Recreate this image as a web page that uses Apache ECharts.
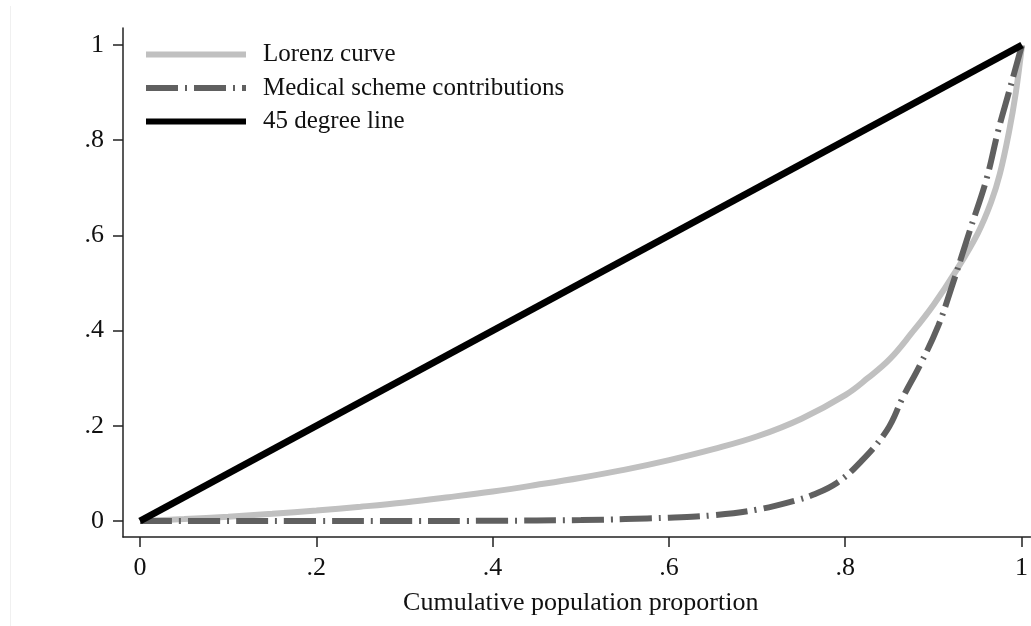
<!DOCTYPE html>
<html>
<head>
<meta charset="utf-8">
<script src="https://cdn.jsdelivr.net/npm/echarts@6/dist/echarts.min.js"></script>
<style>html,body{margin:0;padding:0;background:#fff}#c{width:1031px;height:626px}</style>
</head>
<body>
<div id="c"></div>
<script>
// ---- data ----
var tickValues = [0, 0.2, 0.4, 0.6, 0.8, 1];
var xTickLabels = ['0', '.2', '.4', '.6', '.8', '1'];
var yTickLabels = ['0', '.2', '.4', '.6', '.8', '1'];
var seriesNames = ['Lorenz curve', 'Medical scheme contributions', '45 degree line'];

var lorenzX = [0, 0.05, 0.1, 0.15, 0.2, 0.25, 0.3, 0.35, 0.4, 0.45, 0.5, 0.55, 0.6, 0.65, 0.7, 0.75, 0.8, 0.825, 0.85, 0.875, 0.9, 0.925, 0.95, 0.965, 0.975, 0.985, 0.993, 1];
var lorenzY = [0, 0.004, 0.009, 0.015, 0.022, 0.030, 0.039, 0.050, 0.062, 0.076, 0.091, 0.108, 0.128, 0.151, 0.178, 0.215, 0.265, 0.300, 0.340, 0.395, 0.455, 0.525, 0.605, 0.670, 0.730, 0.815, 0.900, 1];

var medX = [0, 0.1, 0.2, 0.3, 0.4, 0.5, 0.55, 0.6, 0.65, 0.7, 0.745, 0.763, 0.79, 0.816, 0.847, 0.865, 0.885, 0.905, 0.92, 0.941, 0.96, 0.973, 0.985, 0.994, 1];
var medY = [0, 0, 0, 0, 0.0005, 0.002, 0.004, 0.007, 0.012, 0.024, 0.044, 0.055, 0.08, 0.122, 0.191, 0.26, 0.33, 0.41, 0.49, 0.611, 0.72, 0.82, 0.90, 0.96, 1];

var eqX = [0, 1];
var eqY = [0, 1];

function pairs(xs, ys) { return xs.map(function (x, i) { return [x, ys[i]]; }); }

// layout (pixels)
var PL = 140, PR = 1022, PT = 45, PB = 521;   // data extent 0..1
var AXL = 123, AXR = 1031, AXT = 28, AXB = 537; // axis frame lines
var W = 1031, H = 626;
var sx = (PR - PL), sy = (PB - PT);

var FONT = '"Liberation Serif", "DejaVu Serif", serif';
var tickStyle = { show: true, length: 10, inside: false, lineStyle: { color: '#222', width: 1.5 }, customValues: tickValues };

var chart = echarts.init(document.getElementById('c'), null, { renderer: 'canvas' });
chart.setOption({
  backgroundColor: '#ffffff',
  animation: false,
  textStyle: { fontFamily: FONT },
  graphic: [{
    type: 'line', shape: { x1: 10.5, y1: 6, x2: 10.5, y2: 626 },
    style: { stroke: '#f0f0f0', lineWidth: 1 }, silent: true
  }],
  grid: [
    { left: PL, right: W - PR, top: PT, bottom: H - PB },
    { left: AXL, right: W - AXR, top: AXT, bottom: H - AXB }
  ],
  legend: {
    orient: 'vertical', left: 143, top: 42, padding: 0,
    itemWidth: 100, itemHeight: 14, itemGap: 8.5,
    itemStyle: { opacity: 0 },
    lineStyle: { width: 6 },
    textStyle: { fontFamily: FONT, fontSize: 25, color: '#111', padding: [0, 0, 0, 12] },
    data: seriesNames
  },
  xAxis: [{
    type: 'value', gridIndex: 0, min: 0, max: 1, interval: 0.2,
    axisLine: { show: false }, axisTick: { show: false }, axisLabel: { show: false },
    splitLine: { show: false }
  }, {
    type: 'value', gridIndex: 1,
    min: -(PL - AXL) / sx, max: 1 + (AXR - PR) / sx,
    axisLine: { show: true, onZero: false, lineStyle: { color: '#222', width: 1.5 } },
    axisTick: tickStyle,
    axisLabel: {
      show: true, customValues: tickValues, margin: 18, fontFamily: FONT, fontSize: 26, color: '#111',
      formatter: function (v) { return xTickLabels[Math.round(v / 0.2)]; }
    },
    splitLine: { show: false },
    name: 'Cumulative population proportion', nameLocation: 'middle', nameGap: 53,
    nameTextStyle: { fontFamily: FONT, fontSize: 26, color: '#111', padding: [0, 0, 0, 8] }
  }],
  yAxis: [{
    type: 'value', gridIndex: 0, min: 0, max: 1, interval: 0.2,
    axisLine: { show: false }, axisTick: { show: false }, axisLabel: { show: false },
    splitLine: { show: false }
  }, {
    type: 'value', gridIndex: 1,
    min: -(AXB - PB) / sy, max: 1 + (PT - AXT) / sy,
    axisLine: { show: true, onZero: false, lineStyle: { color: '#222', width: 1.5 } },
    axisTick: tickStyle,
    axisLabel: {
      show: true, customValues: tickValues, margin: 19, fontFamily: FONT, fontSize: 26, color: '#111',
      formatter: function (v) { return yTickLabels[Math.round(v / 0.2)]; }
    },
    splitLine: { show: false }
  }],
  series: [{
    name: seriesNames[0], type: 'line', xAxisIndex: 0, yAxisIndex: 0,
    data: pairs(lorenzX, lorenzY), showSymbol: false, symbol: 'none',
    smooth: 0.4,
    lineStyle: { color: '#c0c0c0', width: 6 }, itemStyle: { color: '#c0c0c0' }, z: 2
  }, {
    name: seriesNames[1], type: 'line', xAxisIndex: 0, yAxisIndex: 0,
    data: pairs(medX, medY), showSymbol: false, symbol: 'none',
    smooth: 0.4,
    lineStyle: { color: '#606060', width: 6, type: [32, 7, 2, 7], cap: 'butt' },
    itemStyle: { color: '#606060' }, z: 3
  }, {
    name: seriesNames[2], type: 'line', xAxisIndex: 0, yAxisIndex: 0,
    data: pairs(eqX, eqY), showSymbol: false, symbol: 'none',
    lineStyle: { color: '#000000', width: 7 }, itemStyle: { color: '#000' }, z: 4
  }]
});
</script>
</body>
</html>
